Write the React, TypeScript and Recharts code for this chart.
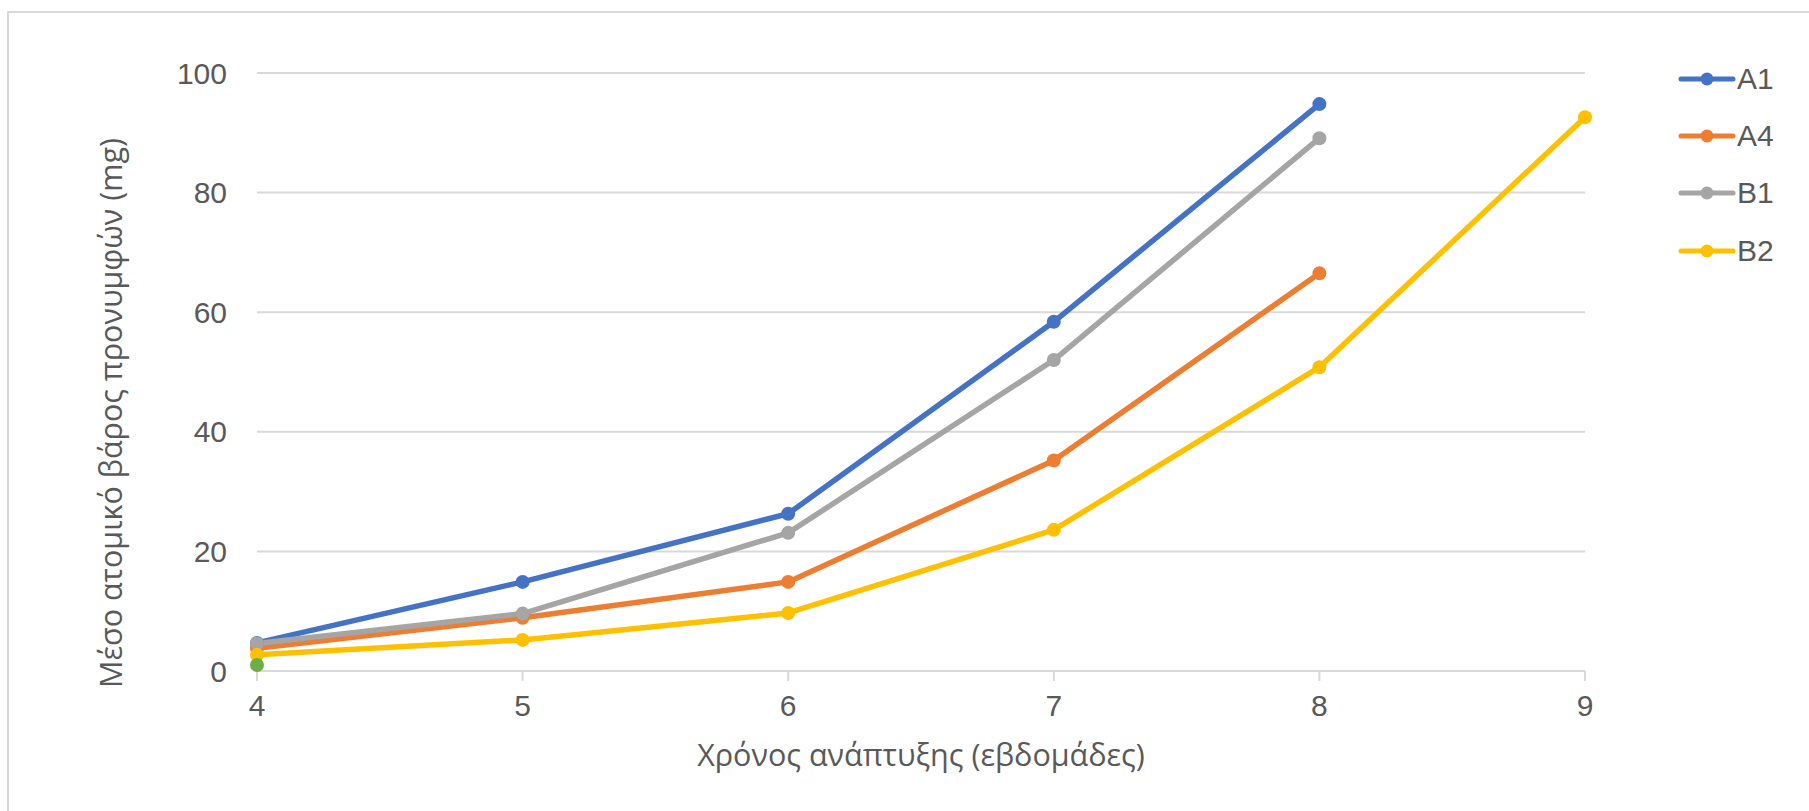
import React from "react";
import { LineChart, Line, XAxis, YAxis, CartesianGrid, Label } from "recharts";

// Development time in weeks
const weeks = [4, 5, 6, 7, 8, 9];

// Mean individual larval weight (mg) per group
const a1 = [4.7, 14.9, 26.3, 58.4, 94.8];
const a4 = [3.8, 8.9, 14.9, 35.2, 66.5];
const b1 = [4.6, 9.6, 23.1, 52.0, 89.1];
const b2 = [2.7, 5.2, 9.7, 23.6, 50.8, 92.6];
const extra = [1.0];

const yTicks = [0, 20, 40, 60, 80, 100];

const seriesNames = ["A1", "A4", "B1", "B2"];
const seriesColors = ["#4472C4", "#ED7D31", "#A5A5A5", "#FFC000"];
const extraColor = "#70AD47";

const data = weeks.map((w, i) => ({
  week: w,
  A1: a1[i],
  A4: a4[i],
  B1: b1[i],
  B2: b2[i],
  extra: extra[i],
}));

const FONT = "'Liberation Sans', Arial, sans-serif";
const TITLE_FONT = "'Open Sans', sans-serif";
const TEXT = "#595959";
const LINE_W = 5.5;
const DOT_R = 7;

const LegendBox = () => (
  <div style={{ position: "absolute", left: 1678, top: 50, fontFamily: FONT }}>
    {seriesNames.map((name, i) => (
      <div
        key={name}
        style={{ display: "flex", alignItems: "center", height: 57.3 }}
      >
        <svg width={58} height={16} style={{ display: "block" }}>
          <line x1={3} y1={8} x2={55} y2={8} stroke={seriesColors[i]} strokeWidth={5} strokeLinecap="round" />
          <circle cx={29} cy={8} r={6.5} fill={seriesColors[i]} />
        </svg>
        <span style={{ fontSize: 30, color: TEXT, marginLeft: 1 }}>{name}</span>
      </div>
    ))}
  </div>
);

export default function App() {
  return (
    <div style={{ position: "fixed", left: 0, top: 0, width: 1809, height: 811, background: "#fff", overflow: "hidden" }}>
      <div
        style={{
          position: "absolute",
          left: 7,
          top: 11,
          width: 1900,
          height: 900,
          borderLeft: "2px solid #d9d9d9",
          borderTop: "2px solid #d9d9d9",
        }}
      />
      <div style={{ position: "absolute", left: 0, top: 0 }}>
        <LineChart
          width={1809}
          height={811}
          data={data}
          margin={{ top: 73, right: 224, bottom: 0, left: 0 }}
        >
          <CartesianGrid vertical={false} stroke="#d9d9d9" strokeWidth={2} />
          <XAxis
            dataKey="week"
            type="number"
            domain={[4, 9]}
            ticks={weeks}
            stroke="#d9d9d9"
            strokeWidth={2}
            tickSize={10}
            tickMargin={14}
            tick={{ fill: TEXT, fontSize: 30, fontFamily: FONT }}
            height={140}
          >
            <Label
              content={() => (
                <text
                  x={921}
                  y={766}
                  textAnchor="middle"
                  fill={TEXT}
                  fontSize={30.5}
                  fontFamily={TITLE_FONT}
                >
                  Χρόνος ανάπτυξης (εβδομάδες)
                </text>
              )}
            />
          </XAxis>
          <YAxis
            domain={[0, 100]}
            ticks={yTicks}
            axisLine={false}
            tickLine={false}
            tickSize={0}
            tickMargin={30}
            width={257}
            tick={{ fill: TEXT, fontSize: 30, fontFamily: FONT }}
          >
            <Label
              content={() => (
                <text
                  x={122}
                  y={413}
                  transform="rotate(-90 122 413)"
                  textAnchor="middle"
                  fill={TEXT}
                  fontSize={30.5}
                  fontFamily={TITLE_FONT}
                >
                  Μέσο ατομικό βάρος προνυμφών (mg)
                </text>
              )}
            />
          </YAxis>
          {seriesNames.map((name, i) => (
            <Line
              key={name}
              dataKey={name}
              stroke={seriesColors[i]}
              strokeWidth={LINE_W}
              strokeLinejoin="round"
              dot={{ r: DOT_R, fill: seriesColors[i], stroke: seriesColors[i], strokeWidth: 0 }}
              activeDot={false}
              isAnimationActive={false}
            />
          ))}
          <Line
            dataKey="extra"
            stroke={extraColor}
            strokeWidth={LINE_W}
            dot={{ r: DOT_R, fill: extraColor, stroke: extraColor, strokeWidth: 0 }}
            activeDot={false}
            legendType="none"
            isAnimationActive={false}
          />
        </LineChart>
      </div>
      <LegendBox />
    </div>
  );
}
